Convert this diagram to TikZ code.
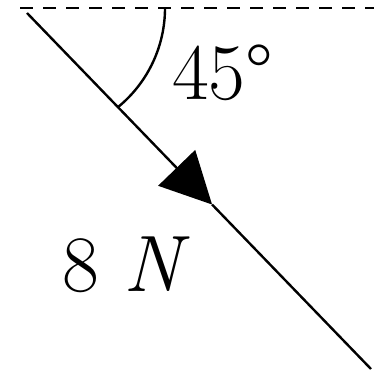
\documentclass[tikz,border=0pt]{standalone}
\usetikzlibrary{arrows.meta,calc}
\begin{document}
\begin{tikzpicture}[x=1pt,y=1pt,
  ln/.style={line width=2.4pt},
  dsh/.style={line width=2.4pt,dash pattern=on 13pt off 10pt},
  lbl/.style={font=\fontsize{80}{80}\selectfont,inner sep=0pt,anchor=base west}]
\useasboundingbox (0,0) rectangle (378,375);
\coordinate (A) at (27,362);
\coordinate (B) at (371,6);
\coordinate (D1) at (20,367);
\coordinate (D2) at (374,367);
\coordinate (M) at ($(A)!0.538!(B)$);
\coordinate (R) at (165,367);
\draw[dsh] (D1) -- (D2);
\draw[ln,-{Triangle[length=51pt,width=51pt]}] (A) -- (M);
\draw[ln] (M) -- (B);
\draw[ln] (R) arc[start angle=0,end angle=-51,radius=128];
\node[lbl] (ang) at (172,275) {45\textdegree};
\node[lbl] (force) at (62,83) {8 \textit{N}};
\end{tikzpicture}
\end{document}
